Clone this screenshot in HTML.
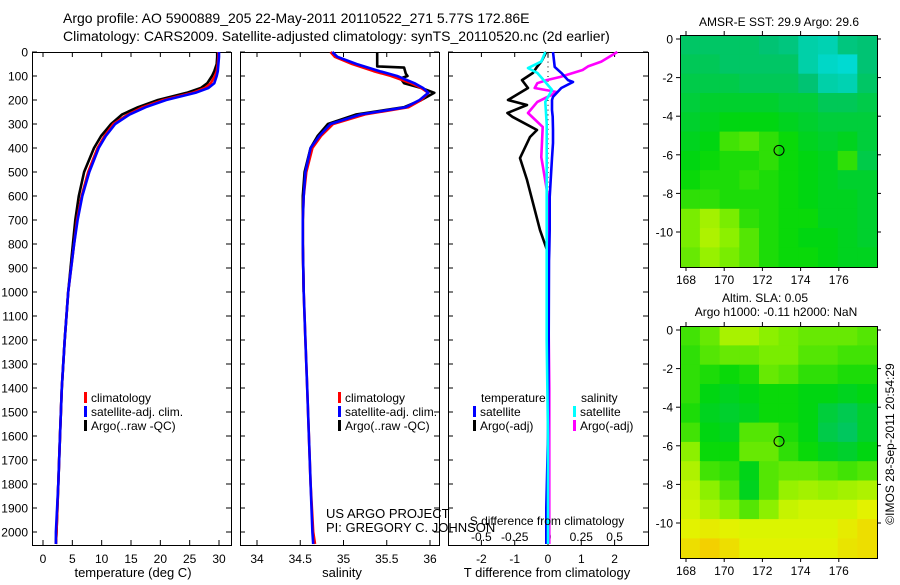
<!DOCTYPE html>
<html><head><meta charset="utf-8"><style>
body{margin:0;background:#fff;}
svg text{font-family:"Liberation Sans",sans-serif;fill:#000;}
</style></head><body>
<svg id="c" width="900" height="580" xmlns="http://www.w3.org/2000/svg"></svg>
<script>
// ---------- data ----------
const depths=[0,20,50,80,100,130,150,170,200,230,260,300,350,400,500,600,700,800,1000,1200,1400,1600,1800,2000,2050];
const tempClim=[29.9,29.9,29.8,29.6,29.3,28.6,27.6,25.5,20.5,17,14.5,12,10.5,9.3,7.7,6.6,5.8,5.3,4.3,3.7,3.2,2.9,2.6,2.3,2.2];
const tempSat=[30.0,30.0,29.9,29.8,29.6,29.2,28.2,26.0,21.0,17.5,14.8,12.3,10.7,9.5,7.9,6.7,5.9,5.3,4.3,3.7,3.2,2.9,2.6,2.2,2.2];
const tempArgo=[29.7,29.7,29.6,29.2,28.8,28.0,26.9,24.5,19.6,16.2,13.5,11.6,9.9,8.7,7.0,6.1,5.5,5.1,4.3,3.7,3.2,2.9,2.6,2.3,2.2];
const salClim=[34.85,34.9,35.1,35.35,35.55,35.78,35.9,35.98,35.9,35.75,35.25,34.88,34.74,34.64,34.57,34.54,34.53,34.53,34.54,34.56,34.58,34.6,34.62,34.65,34.67];
const salSat=[34.87,34.93,35.15,35.42,35.62,35.82,35.92,35.98,35.88,35.72,35.2,34.85,34.72,34.62,34.56,34.54,34.53,34.53,34.54,34.56,34.58,34.6,34.62,34.64,34.65];
const argoSalDepths=[0,60,65,90,100,110,130,150,170,200,230,260,300,350,400,500,600,700,800,1000];
const argoSal=[35.39,35.39,35.7,35.72,35.74,35.66,35.7,35.9,36.05,35.9,35.7,35.15,34.82,34.7,34.62,34.55,34.53,34.53,34.53,34.54];
const diffDepths=[0,62,87,117,125,150,187,200,221,242,254,270,325,354,379,442,533,604,742,825,870,1200,1600,1900,2050];
const tDiffSat=[0.15,0.2,0.4,0.6,0.75,0.4,0.15,0.12,0.12,0.12,0.13,0.14,0.15,0.15,0.15,0.12,0.08,0.05,0.05,0.04,0.03,0.02,0,-0.05,-0.05];
const argoTDepths=[0,40,62,87,117,150,200,221,254,270,325,354,442,533,742,825,870];
const tDiffArgo=[-0.05,-0.2,-0.33,-0.45,-0.78,-0.6,-1.2,-0.63,-1.22,-1.07,-0.33,-0.54,-0.84,-0.63,-0.24,-0.03,0];
const argoSDepths=[0,40,60,75,104,117,130,150,167,208,254,312,438,604,900,1400,2050];
const sDiffArgo=[0.52,0.4,0.3,0.26,0.09,-0.01,-0.08,-0.1,0.07,-0.08,-0.15,-0.04,-0.05,0,0,0.01,0.01];
const satSDepths=[0,40,67,87,125,158,208,300,500,800,1200,1600,2050];
const sDiffSat=[-0.02,-0.05,-0.15,-0.08,-0.02,0.03,-0.02,-0.01,-0.01,-0.01,-0.01,0,0];
const depthTicks=[0,100,200,300,400,500,600,700,800,900,1000,1100,1200,1300,1400,1500,1600,1700,1800,1900,2000];
const tempTicks=[0,5,10,15,20,25,30];
const salTicks=[34,34.5,35,35.5,36];
const tDiffTicks=[-2,-1,0,1,2];
const sDiffTicks=[-0.5,-0.25,0,0.25,0.5];
const lonTicks=[168,170,172,174,176];
const latTicks=[0,-2,-4,-6,-8,-10];
const argoLon=172.87, argoLat=-5.77;
const sstGrid=[
[0.22,0.22,0.22,0.22,0.2,0.18,0.1,0.08,0.18,0.2],
[0.24,0.24,0.22,0.22,0.22,0.22,0.1,0.04,0.02,0.2],
[0.26,0.26,0.26,0.24,0.24,0.24,0.2,0.1,0.08,0.22],
[0.28,0.3,0.3,0.3,0.3,0.28,0.28,0.24,0.24,0.26],
[0.3,0.32,0.34,0.34,0.34,0.32,0.3,0.28,0.28,0.28],
[0.32,0.34,0.42,0.44,0.4,0.36,0.32,0.3,0.32,0.28],
[0.34,0.36,0.38,0.38,0.4,0.36,0.34,0.32,0.4,0.26],
[0.36,0.38,0.38,0.4,0.38,0.36,0.34,0.32,0.3,0.3],
[0.4,0.4,0.38,0.38,0.38,0.36,0.34,0.32,0.32,0.3],
[0.48,0.54,0.48,0.4,0.38,0.36,0.36,0.32,0.32,0.3],
[0.48,0.56,0.5,0.44,0.38,0.36,0.34,0.34,0.32,0.3],
[0.46,0.52,0.48,0.44,0.38,0.36,0.36,0.34,0.32,0.32]];
const slaGrid=[
[0.42,0.46,0.55,0.55,0.5,0.48,0.46,0.46,0.46,0.44],
[0.4,0.44,0.46,0.46,0.48,0.48,0.44,0.44,0.42,0.42],
[0.4,0.38,0.36,0.38,0.46,0.44,0.4,0.4,0.38,0.38],
[0.4,0.34,0.32,0.34,0.36,0.36,0.34,0.34,0.32,0.34],
[0.38,0.32,0.3,0.32,0.36,0.36,0.34,0.28,0.25,0.3],
[0.42,0.34,0.32,0.44,0.44,0.38,0.34,0.26,0.23,0.3],
[0.5,0.36,0.36,0.46,0.46,0.4,0.36,0.32,0.3,0.34],
[0.56,0.42,0.4,0.33,0.44,0.46,0.46,0.44,0.42,0.44],
[0.6,0.5,0.44,0.32,0.44,0.52,0.54,0.52,0.54,0.56],
[0.62,0.56,0.5,0.44,0.5,0.6,0.62,0.62,0.62,0.66],
[0.66,0.68,0.66,0.64,0.64,0.64,0.64,0.64,0.68,0.72],
[0.72,0.76,0.72,0.66,0.66,0.66,0.66,0.66,0.7,0.72]];

// ---------- helpers ----------
const svg=document.getElementById('c');
const NS='http://www.w3.org/2000/svg';
function mk(tag,attrs,parent){const e=document.createElementNS(NS,tag);for(const k in attrs)e.setAttribute(k,attrs[k]);(parent||svg).appendChild(e);return e;}
function txt(s,x,y,size,anchor,parent){const t=mk('text',{x:x,y:y,'font-size':size,'text-anchor':anchor||'start'},parent);t.textContent=s;return t;}
const yD=d=>52+d*0.24;
function frame(x0,x1,y0,y1,name){const r=mk('rect',{x:x0+0.5,y:y0+0.5,width:x1-x0,height:y1-y0,fill:'none',stroke:'#000','stroke-width':1});}
function line(xs,ds,xf,color,name,w){const g=mk('polyline',{points:xs.map((v,i)=>xf(v).toFixed(1)+','+yD(ds[i]).toFixed(1)).join(' '),fill:'none',stroke:color,'stroke-width':w||2.6,'stroke-linejoin':'round'});}
function depthTicksOn(x0,x1,labels){depthTicks.forEach(d=>{const y=yD(d);mk('line',{x1:x0,y1:y,x2:x0+5,y2:y,stroke:'#000'});mk('line',{x1:x1-5,y1:y,x2:x1,y2:y,stroke:'#000'});if(labels){const t=txt(String(d),28,y+4.5,12,'end');}});}
function legend(x,y,items){items.forEach((it,i)=>{mk('rect',{x:x,y:y+i*14-10,width:3,height:11,fill:it[1]});const t=txt(it[0],x+7,y+i*14,12);});}

// ---------- titles ----------
let t=txt('Argo profile: AO 5900889_205 22-May-2011 20110522_271 5.77S 172.86E',63,23,14);


t=txt('Climatology: CARS2009. Satellite-adjusted climatology: synTS_20110520.nc (2d earlier)',63,41,14);



// ---------- panel 1: temperature ----------
const xT=v=>43+v*5.867;
frame(32,231,52,545,'temperature-panel');
depthTicksOn(32,231,true);
tempTicks.forEach(v=>{mk('line',{x1:xT(v),y1:52,x2:xT(v),y2:57,stroke:'#000'});mk('line',{x1:xT(v),y1:540,x2:xT(v),y2:545,stroke:'#000'});const l=txt(String(v),xT(v),563,12,'middle');});
line(tempArgo,depths,xT,'#000','argo-temperature-line');
line(tempClim,depths,xT,'#f00','climatology-temperature-line');
line(tempSat,depths,xT,'#00f','satellite-temperature-line');
t=txt('temperature (deg C)',133,577,13,'middle');


legend(84,402,[['climatology','#f00'],['satellite-adj. clim.','#00f'],['Argo(..raw -QC)','#000']]);

// ---------- panel 2: salinity ----------
const xS=v=>257+(v-34)*86.5;
frame(240,439,52,545,'salinity-panel');
depthTicksOn(240,439,false);
salTicks.forEach(v=>{mk('line',{x1:xS(v),y1:52,x2:xS(v),y2:57,stroke:'#000'});mk('line',{x1:xS(v),y1:540,x2:xS(v),y2:545,stroke:'#000'});const l=txt(String(v),xS(v),563,12,'middle');});
line(argoSal,argoSalDepths,xS,'#000','argo-salinity-line');
line(salClim,depths,xS,'#f00','climatology-salinity-line');
line(salSat,depths,xS,'#00f','satellite-salinity-line');
t=txt('salinity',342,577,13,'middle');


legend(338,402,[['climatology','#f00'],['satellite-adj. clim.','#00f'],['Argo(..raw -QC)','#000']]);
t=txt('US ARGO PROJECT',326,518,13);


t=txt('PI: GREGORY C. JOHNSON',326,532,13);



// ---------- panel 3: differences ----------
const xTd=v=>548+v*33.3;
const xSd=v=>548+v*133.2;
frame(448,648,52,545,'difference-panel');
depthTicksOn(448,648,false);
tDiffTicks.forEach(v=>{mk('line',{x1:xTd(v),y1:52,x2:xTd(v),y2:57,stroke:'#000'});mk('line',{x1:xTd(v),y1:540,x2:xTd(v),y2:545,stroke:'#000'});const l=txt(String(v),xTd(v),563,12,'middle');});
sDiffTicks.forEach(v=>{const l=txt(String(v).replace('-','−').replace('−','-'),xSd(v),541,12,'middle');});
for(let d=20;d<=2000;d+=20){mk('rect',{x:547.5,y:yD(d),width:1,height:1,fill:'#000'});}
line(tDiffArgo,argoTDepths,xTd,'#000','argo-t-diff-line');
line(sDiffArgo,argoSDepths,xSd,'#f0f','argo-s-diff-line');
line(tDiffSat,diffDepths,xTd,'#00f','satellite-t-diff-line');
line(sDiffSat,satSDepths,xSd,'#0ff','satellite-s-diff-line');
t=txt('S difference from climatology',547,525,12,'middle');


t=txt('T difference from climatology',547,577,13,'middle');


t=txt('temperature',481,402,12);


t=txt('salinity',581,402,12);


legend(473,416,[['satellite','#00f'],['Argo(-adj)','#000']]);
legend(573,416,[['satellite','#0ff'],['Argo(-adj)','#f0f']]);

// ---------- maps ----------
const stops=[[0,[0,220,220]],[0.2,[0,195,115]],[0.35,[0,215,10]],[0.5,[140,240,0]],[0.65,[225,245,0]],[0.8,[250,195,0]]];
function cmap(v){for(let i=1;i<stops.length;i++){if(v<=stops[i][0]){const a=stops[i-1],b=stops[i];const f=(v-a[0])/(b[0]-a[0]);return 'rgb('+a[1].map((c,k)=>Math.round(c+(b[1][k]-c)*f)).join(',')+')';}}return 'rgb(250,195,0)';}
function drawMap(y0,grid,name){
  const x0=680,x1=877,y1=y0+232;
  const lonX=v=>686+(v-168)*19.1;
  const latY=v=>y0+4+(-v)*19.3;
  const lon0=167.7,lon1=178.0,lat0=0.2,lat1=-11.8;
  const nr=grid.length,nc=grid[0].length;
  const dLon=(lon1-lon0)/nc,dLat=(lat0-lat1)/nr;
  grid.forEach((row,r)=>row.forEach((v,c)=>{
    const xa=lonX(lon0+c*dLon),xb=lonX(lon0+(c+1)*dLon);
    const ya=latY(lat0-r*dLat),yb=latY(lat0-(r+1)*dLat);
    const cell=mk('rect',{x:Math.max(x0,xa).toFixed(1),y:Math.max(y0,ya).toFixed(1),width:(Math.min(x1,xb)-Math.max(x0,xa)+0.6).toFixed(1),height:(Math.min(y1,yb)-Math.max(y0,ya)+0.6).toFixed(1),fill:cmap(v)});
    
    
  }));
  frame(x0,x1,y0,y1,name);
  lonTicks.forEach(v=>{mk('line',{x1:lonX(v),y1:y0,x2:lonX(v),y2:y0-4,stroke:'#000'});mk('line',{x1:lonX(v),y1:y1,x2:lonX(v),y2:y1+4,stroke:'#000'});const l=txt(String(v),lonX(v),y1+17,12,'middle');});
  latTicks.forEach(v=>{mk('line',{x1:x0,y1:latY(v),x2:x0-4,y2:latY(v),stroke:'#000'});mk('line',{x1:x1,y1:latY(v),x2:x1+4,y2:latY(v),stroke:'#000'});const l=txt(String(v),673,latY(v)+4.5,12,'end');});
  const m=mk('circle',{cx:lonX(argoLon),cy:latY(argoLat),r:5,fill:'none',stroke:'#000','stroke-width':1});
  
  
}
drawMap(35,sstGrid,'sst-map');
drawMap(326,slaGrid,'sla-map');
t=txt('AMSR-E SST: 29.9 Argo: 29.6',779,26,12,'middle');


t=txt('Altim. SLA: 0.05',765,302,12,'middle');


t=txt('Argo h1000: -0.11 h2000: NaN',776,316,12,'middle');


t=txt('©IMOS 28-Sep-2011 20:54:29',0,0,12,'middle');
t.setAttribute('transform','translate(894,444) rotate(-90)');


</script>
</body></html>
